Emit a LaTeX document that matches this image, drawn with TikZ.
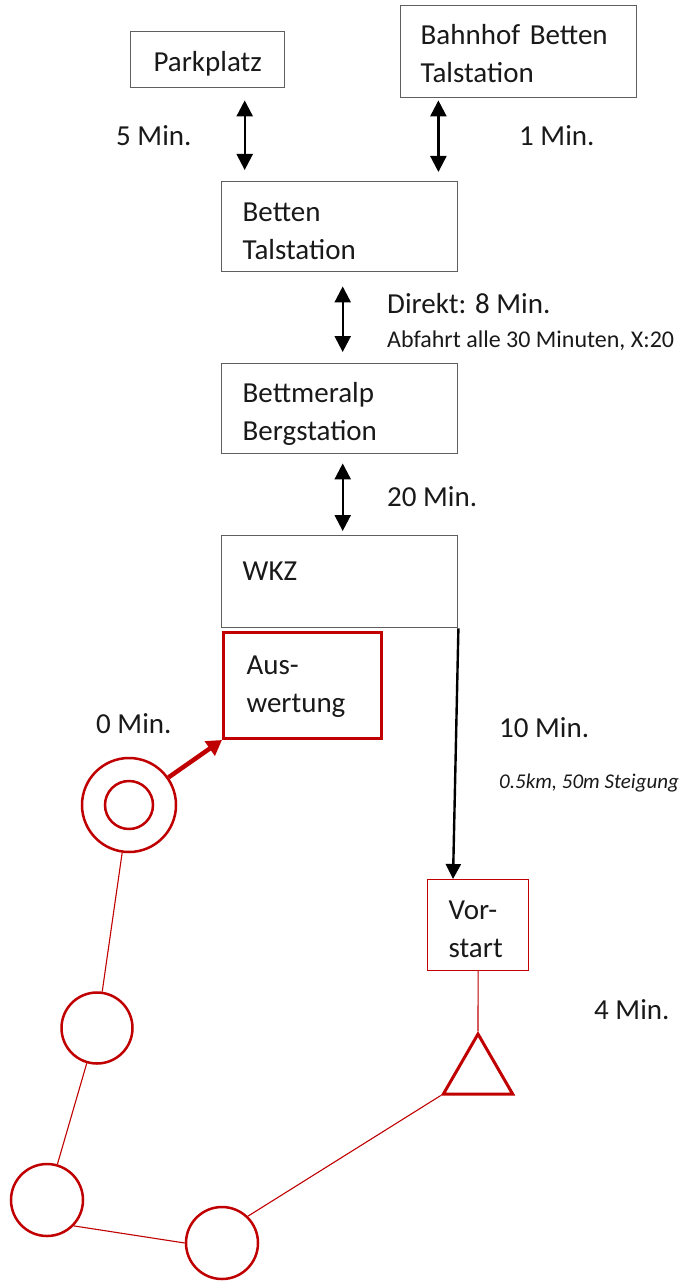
\documentclass[tikz,border=0pt]{standalone}
\usepackage{fontspec}
\setmainfont{Carlito}
\usetikzlibrary{arrows.meta, shapes.geometric}
\definecolor{rot}{RGB}{192,0,0}
\definecolor{rahmen}{RGB}{95,95,95}
\definecolor{schrift}{RGB}{25,25,25}

\begin{document}
\begin{tikzpicture}[x=1pt, y=-1pt,
        font=\fontsize{29}{38}\selectfont, text=schrift,
        kasten/.style={draw=rahmen, line width=1.4, inner ysep=0, text height=32, text depth=43, align=left, anchor=north west},
        rotkasten/.style={kasten, draw=rot},
        zeit/.style={anchor=base west, inner sep=0},
        klein/.style={zeit, font=\fontsize{24}{28}\selectfont},
        posten/.style={circle, draw=rot, line width=2.5, inner sep=0},
        dpfeil/.style={{Triangle[width=16pt,length=16pt]}-{Triangle[width=16pt,length=16pt]}, line width=2.4},
        pfeil/.style={-{Triangle[width=15pt,length=15pt]}, line width=2.4},
        rotpfeil/.style={-{Triangle[width=17pt,length=15pt]}, draw=rot, line width=4.5},
        rotlinie/.style={draw=rot, line width=1.1}]
    \useasboundingbox (0,0) rectangle (684,1281);
    % Stationen
    \node[kasten, inner xsep=0, minimum width=154, minimum height=56, text height=29, text depth=5, align=center] (park) at (130,31) {Parkplatz};
    \node[kasten, inner xsep=20, text width=196, minimum height=92, text height=29] (bhf) at (400,5) {Bahnhof Betten\\Talstation};
    \node[kasten, inner xsep=21, text width=194, minimum height=90] (tal) at (221,181) {Betten\\Talstation};
    \node[kasten, inner xsep=21, text width=194, minimum height=90, text height=30] (berg) at (221,363) {Bettmeralp\\Bergstation};
    \node[kasten, inner xsep=21, text width=194, minimum height=92, text height=41] (wkz) at (221,535) {WKZ};
    \node[rotkasten, line width=3, inner xsep=23, text width=112, minimum height=106, text height=20] (aus) at (222,631) {Aus-\\wertung};
    \node[rotkasten, line width=1.2, inner xsep=21, text width=59, minimum height=91] (vor) at (427,879) {Vor-\\start};
    % Zeiten
    \foreach \n/\x/\y/\txt in {t5/116/146/{5 Min.}, t1/519/146/{1 Min.}, direkt/387/313/{Direkt: 8 Min.},
            t20/387/506/{20 Min.}, t0/96/733/{0 Min.}, t10/499/737/{10 Min.}, t4/594/1019/{4 Min.}}
        \node[zeit] (\n) at (\x,\y) {\txt};
    \node[klein] (abfahrt) at (387,347) {Abfahrt alle 30 Minuten, X:20};
    \node[klein, font=\fontsize{21}{25}\selectfont\itshape] (steig) at (499,788) {0.5km, 50m Steigung};
    % Lauf
    \node[posten, minimum size=94] (start) at (129,805) {};
    \node[posten, minimum size=48] (startin) at (129,805) {};
    \node[posten, minimum size=71] (c1) at (97,1028) {};
    \node[posten, minimum size=72] (c2) at (47,1200) {};
    \node[posten, minimum size=72] (c3) at (222,1243) {};
    \node[regular polygon, regular polygon sides=3, draw=rot, line width=3, inner sep=0, minimum size=80] (tri) at (478,1074) {};
    % Verbindungen
    \draw[dpfeil, shorten <=12, shorten >=11] ([xshift=37]park.south) -- ([xshift=37]park.south |- tal.north);
    \draw[dpfeil, shorten <=2, shorten >=9] ([xshift=-20]tal.north east |- bhf.south) -- ([xshift=-20]tal.north east);
    \draw[dpfeil, shorten <=14, shorten >=11] ([xshift=3]tal.south) -- ([xshift=3]berg.north);
    \draw[dpfeil, shorten <=9, shorten >=4] ([xshift=3]berg.south) -- ([xshift=3]wkz.north);
    \draw[pfeil] (wkz.south east) -- ([xshift=26]vor.north west);
    \draw[rotpfeil] (start) -- (aus.south west);
    \draw[rotlinie] (start) -- (c1) -- (c2);
    \draw[rotlinie] (c2.-44) -- (c3.west);
    \draw[rotlinie] (c3.46) -- (tri.corner 2);
    \draw[rotlinie] (vor.south) -- (tri.corner 1);
\end{tikzpicture}
\end{document}
